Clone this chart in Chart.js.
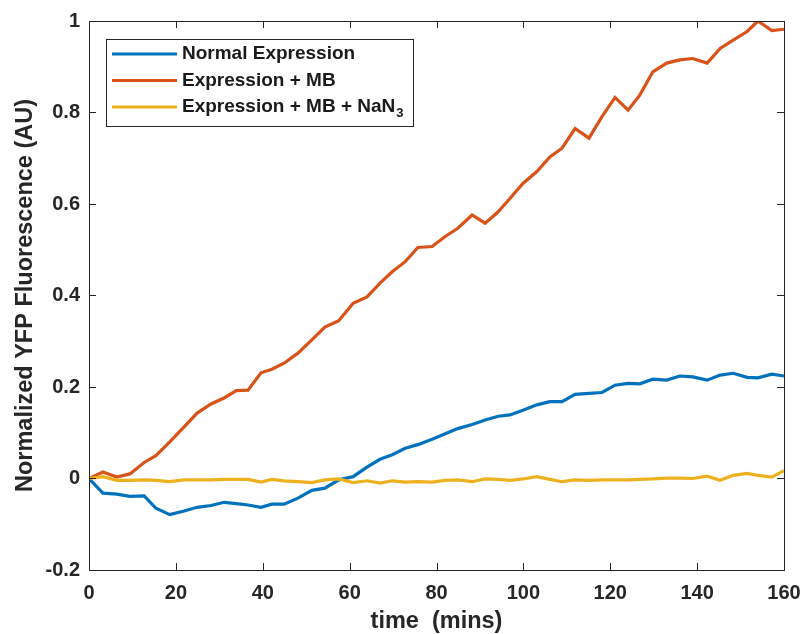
<!DOCTYPE html>
<html>
<head>
<meta charset="utf-8">
<script src="https://cdn.jsdelivr.net/npm/chart.js@4.4.1/dist/chart.umd.min.js"></script>
<style>
  html, body { margin: 0; padding: 0; background: #fff; }
</style>
</head>
<body>
<canvas id="grafik" width="803" height="634"></canvas>
<script>
// waktu pengukuran (menit)
const waktu = [0, 3.2, 6.4, 9.4, 12.7, 15.4, 18.6, 21.9, 24.9, 28.1, 31.1, 33.9, 36.6, 39.6, 42.1, 44.9,
  48.1, 51.3, 54.3, 57.5, 60.8, 64.0, 67.0, 69.8, 72.8, 75.7, 79.0, 82.0, 84.9, 88.2, 91.2, 94.2,
  96.9, 99.9, 103.1, 106.1, 108.9, 111.9, 115.1, 118.1, 121.1, 124.1, 126.8, 129.8, 133.0, 136.0,
  139.0, 142.3, 145.3, 148.3, 151.5, 154.0, 157.2, 160];

const normalExpression = [0, -0.032, -0.034, -0.039, -0.038, -0.065, -0.079, -0.071, -0.063, -0.059,
  -0.052, -0.055, -0.058, -0.063, -0.056, -0.056, -0.043, -0.026, -0.021, -0.003, 0.004, 0.025, 0.042,
  0.052, 0.066, 0.074, 0.086, 0.098, 0.109, 0.118, 0.128, 0.136, 0.139, 0.149, 0.161, 0.168, 0.168,
  0.184, 0.186, 0.188, 0.204, 0.208, 0.207, 0.217, 0.215, 0.224, 0.222, 0.215, 0.226, 0.230, 0.221,
  0.220, 0.228, 0.224];

const expressionMB = [0, 0.014, 0.003, 0.010, 0.035, 0.050, 0.080, 0.113, 0.143, 0.163, 0.176, 0.192,
  0.193, 0.231, 0.239, 0.252, 0.274, 0.303, 0.331, 0.345, 0.383, 0.397, 0.427, 0.452, 0.474, 0.505,
  0.507, 0.529, 0.547, 0.576, 0.558, 0.583, 0.612, 0.645, 0.671, 0.703, 0.722, 0.765, 0.744, 0.791,
  0.833, 0.805, 0.838, 0.889, 0.908, 0.915, 0.918, 0.908, 0.940, 0.958, 0.977, 1.000, 0.979, 0.982];

const expressionMBNaN3 = [0, 0.004, -0.004, -0.004, -0.003, -0.004, -0.007, -0.003, -0.003, -0.003,
  -0.002, -0.002, -0.002, -0.008, -0.002, -0.005, -0.007, -0.009, -0.003, -0.001, -0.009, -0.005,
  -0.010, -0.005, -0.008, -0.007, -0.008, -0.004, -0.003, -0.007, -0.001, -0.002, -0.004, -0.001,
  0.004, -0.002, -0.007, -0.003, -0.004, -0.003, -0.003, -0.003, -0.002, -0.001, 0.001, 0.001, 0.000,
  0.005, -0.004, 0.007, 0.011, 0.007, 0.003, 0.017];

const labelSeri = ["Normal Expression", "Expression + MB", "Expression + MB + NaN\u2083"];
const warnaSeri = ["#0072BD", "#D95319", "#EDB120"];

const xTicks = [0, 20, 40, 60, 80, 100, 120, 140, 160];
const yTicks = [-0.2, 0, 0.2, 0.4, 0.6, 0.8, 1];
const yTickLabels = ["-0.2", "0", "0.2", "0.4", "0.6", "0.8", "1"];

const FONT = "'Liberation Sans', Arial, Helvetica, sans-serif";
const WARNA_SUMBU = "#262626";

// Kotak sumbu + tick ke dalam (gaya MATLAB)
const kotakSumbu = {
  id: "kotakSumbu",
  afterDatasetsDraw(chart) {
    const { ctx, chartArea: a, scales: { x, y } } = chart;
    const panjang = 7;
    ctx.save();
    ctx.strokeStyle = WARNA_SUMBU;
    ctx.lineWidth = 1;
    ctx.beginPath();
    xTicks.forEach(v => {
      const px = Math.round(x.getPixelForValue(v)) + 0.5;
      ctx.moveTo(px, a.bottom); ctx.lineTo(px, a.bottom - panjang);
      ctx.moveTo(px, a.top); ctx.lineTo(px, a.top + panjang);
    });
    yTicks.forEach(v => {
      const py = Math.round(y.getPixelForValue(v)) + 0.5;
      ctx.moveTo(a.left, py); ctx.lineTo(a.left + panjang, py);
      ctx.moveTo(a.right, py); ctx.lineTo(a.right - panjang, py);
    });
    ctx.stroke();
    ctx.strokeRect(Math.round(a.left) + 0.5, Math.round(a.top) + 0.5,
      Math.round(a.right - a.left), Math.round(a.bottom - a.top));
    ctx.restore();
  }
};

// Legenda di dalam area plot, dengan subskrip
const legendaDalam = {
  id: "legendaDalam",
  afterDraw(chart) {
    const { ctx, chartArea: a } = chart;
    const x0 = a.left + 17, y0 = a.top + 18, w = 307, h = 87;
    ctx.save();
    ctx.fillStyle = "#fff";
    ctx.fillRect(x0, y0, w, h);
    ctx.strokeStyle = WARNA_SUMBU;
    ctx.lineWidth = 1;
    ctx.strokeRect(Math.round(x0) + 0.5, Math.round(y0) + 0.5, w, h);
    chart.data.datasets.forEach((ds, i) => {
      const yy = y0 + 15 + i * 26.5;
      ctx.strokeStyle = ds.borderColor;
      ctx.lineWidth = 3.2;
      ctx.beginPath();
      ctx.moveTo(x0 + 6, yy);
      ctx.lineTo(x0 + 71, yy);
      ctx.stroke();

      ctx.fillStyle = "#1a1a1a";
      ctx.textBaseline = "middle";
      ctx.font = "bold 19px " + FONT;
      const m = ds.label.match(/^(.*?)([\u2080-\u2089]+)$/);
      if (m) {
        ctx.fillText(m[1], x0 + 76, yy);
        const lebar = ctx.measureText(m[1]).width;
        const sub = m[2].replace(/[\u2080-\u2089]/g, c => String(c.charCodeAt(0) - 0x2080));
        ctx.font = "bold 13px " + FONT;
        ctx.fillText(sub, x0 + 76 + lebar + 1, yy + 6);
      } else {
        ctx.fillText(ds.label, x0 + 76, yy);
      }
    });
    ctx.restore();
  }
};

const seri = [normalExpression, expressionMB, expressionMBNaN3];
const datasets = seri.map((nilai, i) => ({
  label: labelSeri[i],
  data: waktu.map((t, j) => ({ x: t, y: nilai[j] })),
  borderColor: warnaSeri[i],
  backgroundColor: warnaSeri[i],
  borderWidth: 3.2,
  pointRadius: 0,
  tension: 0,
  fill: false,
  order: 2 - i
}));

new Chart(document.getElementById("grafik").getContext("2d"), {
  type: "line",
  data: { datasets },
  options: {
    responsive: false,
    devicePixelRatio: 1,
    animation: false,
    layout: { padding: { top: 21, right: 19, left: 0, bottom: 0 } },
    plugins: { legend: { display: false }, tooltip: { enabled: false } },
    scales: {
      x: {
        type: "linear",
        min: 0,
        max: 160,
        afterBuildTicks: s => { s.ticks = xTicks.map(v => ({ value: v })); },
        afterFit: s => { s.height = 64; s.paddingLeft = 0; s.paddingRight = 0; },
        grid: { display: false, drawTicks: false },
        border: { display: false },
        ticks: {
          padding: 11,
          color: WARNA_SUMBU,
          font: { family: FONT, size: 20, weight: "bold" },
          maxRotation: 0,
          callback: v => String(v)
        },
        title: {
          display: true,
          text: "time  (mins)",
          color: WARNA_SUMBU,
          padding: { top: 0, bottom: -2 },
          font: { family: FONT, size: 23.5, weight: "bold" }
        }
      },
      y: {
        type: "linear",
        min: -0.2,
        max: 1,
        afterBuildTicks: s => { s.ticks = yTicks.map(v => ({ value: v })); },
        afterFit: s => { s.width = 89; s.paddingTop = 0; s.paddingBottom = 0; },
        grid: { display: false, drawTicks: false },
        border: { display: false },
        ticks: {
          padding: 9,
          color: WARNA_SUMBU,
          font: { family: FONT, size: 20, weight: "bold" },
          callback: (v, i) => yTickLabels[i]
        },
        title: {
          display: true,
          text: "Normalized YFP Fluorescence (AU)",
          color: WARNA_SUMBU,
          padding: { top: 11, bottom: 0 },
          font: { family: FONT, size: 23.5, weight: "bold" }
        }
      }
    }
  },
  plugins: [kotakSumbu, legendaDalam]
});
</script>
</body>
</html>
